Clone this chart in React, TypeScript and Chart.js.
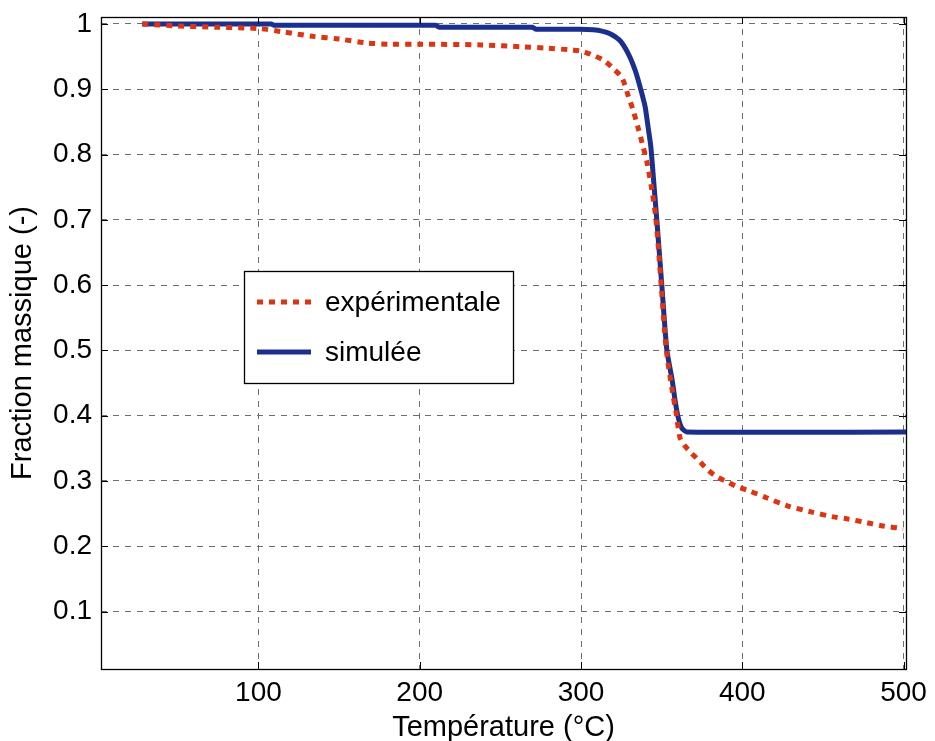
import React, { useEffect, useRef } from "react";
import { Chart, registerables } from "chart.js";

Chart.register(...registerables);

// ---- data ----
const expX = [28, 50, 75, 100, 115, 134, 150, 167, 182, 200, 238, 264, 279, 295, 301, 307.5, 313.7, 319.9, 325.5, 329.4, 332.3, 335.4, 338.5, 341, 344, 346.5, 349.7, 352.9, 356.8, 359, 361.4, 364, 367.6, 373.9, 378.2, 384.4, 390.6, 396.8, 403, 415.4, 427.8, 442, 456.4, 465, 477.4, 487.4, 499.8];
const expY = [1.0, 0.997, 0.995, 0.993, 0.988, 0.981, 0.977, 0.971, 0.969, 0.969, 0.968, 0.965, 0.963, 0.96, 0.958, 0.952, 0.945, 0.932, 0.917, 0.889, 0.868, 0.841, 0.812, 0.787, 0.745, 0.7, 0.6, 0.501, 0.435, 0.404, 0.366, 0.355, 0.345, 0.329, 0.318, 0.306, 0.299, 0.291, 0.286, 0.274, 0.262, 0.253, 0.245, 0.242, 0.236, 0.231, 0.227];

const simX = [28, 108, 110, 210, 212, 270, 272, 300, 307.5, 313, 318, 324, 329.2, 333.6, 336.7, 339.8, 341.6, 343.3, 345, 347, 350.1, 353.2, 356.5, 358.3, 360.2, 362.5, 365.6, 502];
const simY = [0.9999, 0.9999, 0.998, 0.998, 0.995, 0.995, 0.992, 0.992, 0.991, 0.989, 0.985, 0.975, 0.955, 0.929, 0.903, 0.873, 0.842, 0.812, 0.761, 0.7, 0.6, 0.501, 0.455, 0.424, 0.398, 0.381, 0.375, 0.375];

const xTicks = [100, 200, 300, 400, 500];
const yTicks = [0.1, 0.2, 0.3, 0.4, 0.5, 0.6, 0.7, 0.8, 0.9, 1];
const yTickLabels = ["0.1", "0.2", "0.3", "0.4", "0.5", "0.6", "0.7", "0.8", "0.9", "1"];

const seriesLabels = ["expérimentale", "simulée"];
const xTitle = "Température (°C)";
const yTitle = "Fraction massique (-)";

const RED = "#e0330f";
const BLUE = "#1b2f8f";
const GRID = "#6e6e6e";
const FONT = "'Liberation Sans', Arial, Helvetica, sans-serif";

const boxPlugin = {
  id: "matlabBox",
  afterDatasetsDraw(chart: any) {
    const { ctx, chartArea: a, scales } = chart;
    ctx.save();
    ctx.strokeStyle = "#000";
    ctx.lineWidth = 1;
    ctx.setLineDash([]);
    // inward ticks
    const tl = 7;
    ctx.beginPath();
    xTicks.forEach((v) => {
      const px = Math.round(scales.x.getPixelForValue(v)) + 0.5;
      ctx.moveTo(px, a.bottom);
      ctx.lineTo(px, a.bottom - tl);
      ctx.moveTo(px, a.top);
      ctx.lineTo(px, a.top + tl);
    });
    yTicks.forEach((v) => {
      const py = Math.round(scales.y.getPixelForValue(v)) + 0.5;
      ctx.moveTo(a.left, py);
      ctx.lineTo(a.left + tl, py);
      ctx.moveTo(a.right, py);
      ctx.lineTo(a.right - tl, py);
    });
    ctx.stroke();
    ctx.lineWidth = 1.3;
    ctx.strokeRect(Math.round(a.left) + 0.5, Math.round(a.top) + 0.5, Math.round(a.right - a.left), Math.round(a.bottom - a.top));

    // legend
    const lx = a.left + 143;
    const ly = a.top + 254;
    const lw = 269;
    const lh = 112;
    ctx.fillStyle = "#fff";
    ctx.fillRect(lx, ly, lw, lh);
    ctx.lineWidth = 1.3;
    ctx.strokeStyle = "#000";
    ctx.strokeRect(lx + 0.5, ly + 0.5, lw, lh);
    const rows = [ly + 31, ly + 81];
    chart.data.datasets.forEach((ds: any, i: number) => {
      const y = rows[i];
      ctx.beginPath();
      ctx.strokeStyle = ds.borderColor;
      ctx.lineWidth = ds.borderWidth;
      ctx.setLineDash(ds.borderDash || []);
      ctx.moveTo(lx + 13, y);
      ctx.lineTo(lx + 67, y);
      ctx.stroke();
      ctx.setLineDash([]);
      ctx.fillStyle = "#000";
      ctx.font = `28px ${FONT}`;
      ctx.textBaseline = "middle";
      ctx.textAlign = "left";
      ctx.fillText(ds.label, lx + 81, y + 1);
    });
    ctx.restore();
  },
};

export default function App() {
  const ref = useRef<HTMLCanvasElement>(null);
  useEffect(() => {
    if (!ref.current) return;
    const chart = new Chart(ref.current, {
      type: "line",
      data: {
        datasets: [
          {
            label: seriesLabels[0],
            data: expX.map((x, i) => ({ x, y: expY[i] })),
            borderColor: RED,
            borderWidth: 5,
            borderDash: [6, 6],
            pointRadius: 0,
            tension: 0.3,
            fill: false,
          },
          {
            label: seriesLabels[1],
            data: simX.map((x, i) => ({ x, y: simY[i] })),
            borderColor: BLUE,
            borderWidth: 5,
            pointRadius: 0,
            tension: 0.2,
            fill: false,
          },
        ],
      },
      options: {
        animation: false,
        responsive: false,
        maintainAspectRatio: false,
        devicePixelRatio: 1,
        layout: { padding: { left: 0, top: 17, right: 29, bottom: 0 } },
        plugins: { legend: { display: false }, tooltip: { enabled: false } },
        scales: {
          x: {
            type: "linear",
            min: 2.4,
            max: 501.5,
            afterBuildTicks: (s: any) => {
              s.ticks = xTicks.map((v) => ({ value: v }));
            },
            afterFit: (s: any) => {
              s.height = 72;
              s.paddingLeft = 0;
              s.paddingRight = 0;
            },
            grid: { color: GRID, lineWidth: 1, drawTicks: false },
            border: { display: false, dash: [6, 6] },
            ticks: {
              color: "#000",
              padding: 7,
              maxRotation: 0,
              autoSkip: false,
              font: { family: FONT, size: 28 },
              callback: (v: any) => String(v),
            },
            title: {
              display: true,
              text: xTitle,
              color: "#000",
              font: { family: FONT, size: 29 },
              padding: { top: 0, bottom: -4 },
            },
          },
          y: {
            type: "linear",
            min: 0.012,
            max: 1.0107,
            afterBuildTicks: (s: any) => {
              s.ticks = yTicks.map((v) => ({ value: v }));
            },
            afterFit: (s: any) => {
              s.width = 101;
              s.paddingTop = 0;
              s.paddingBottom = 0;
            },
            grid: { color: GRID, lineWidth: 1, drawTicks: false },
            border: { display: false, dash: [6, 6] },
            ticks: {
              color: "#000",
              padding: 9,
              autoSkip: false,
              font: { family: FONT, size: 28 },
              callback: (v: any) => {
                const i = yTicks.findIndex((t) => Math.abs(t - v) < 1e-9);
                return i >= 0 ? yTickLabels[i] : "";
              },
            },
            title: {
              display: true,
              text: yTitle,
              color: "#000",
              font: { family: FONT, size: 29 },
              padding: { top: 6, bottom: 0 },
            },
          },
        },
      },
      plugins: [boxPlugin],
    });
    return () => chart.destroy();
  }, []);
  return (
    <div style={{ position: "fixed", left: 0, top: 0, width: 935, height: 741, background: "#fff" }}>
      <canvas ref={ref} width={935} height={741} />
    </div>
  );
}
